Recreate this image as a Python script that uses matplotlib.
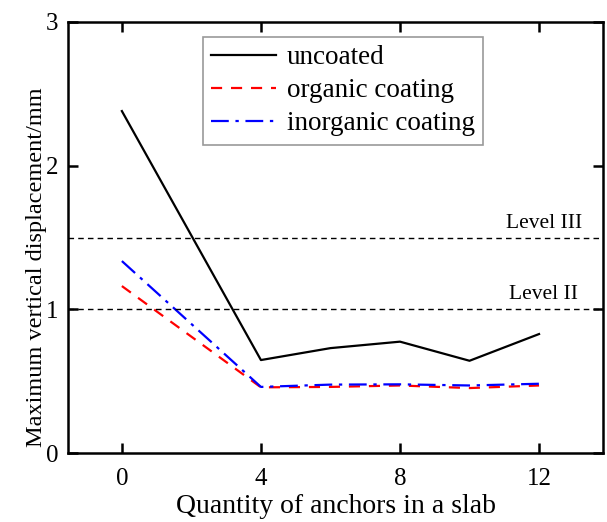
import numpy as np
import matplotlib
matplotlib.use('Agg')
import matplotlib.pyplot as plt

plt.rcParams['font.family'] = 'Liberation Serif'
plt.rcParams['mathtext.fontset'] = 'stix'

# data
anchors = [0, 4, 6, 8, 10, 12]
uncoated = [2.38, 0.647, 0.73, 0.775, 0.642, 0.828]
organic = [1.162, 0.457, 0.46, 0.47, 0.452, 0.47]
inorganic = [1.336, 0.46, 0.476, 0.478, 0.47, 0.482]

levels = [1.5, 1.0]
level_names = ['Level III', 'Level II']

fig = plt.figure(figsize=(6.07, 5.22), dpi=100)
ax = fig.add_axes([68/607, 1-453/522, (603-68)/607, (453-22)/522])

ax.plot(anchors, uncoated, color='black', lw=1.6, ls='-', label='uncoated')
ax.plot(anchors, organic, color='red', lw=1.6, ls=(0, (5, 4)), label='organic coating')
ax.plot(anchors, inorganic, color='blue', lw=1.6, ls=(0, (8, 3, 1.5, 3)), label='inorganic coating')

for lv, name in zip(levels, level_names):
    ax.axhline(lv, color='black', lw=1, ls=(0, (4, 3)))
    ax.text(12.14, lv + 0.1, name, ha='center', va='center', fontsize=15.5)

ax.set_xlim(-1.55, 13.84)
ax.set_ylim(0, 3)
ax.set_xticks([0, 4, 8, 12])
ax.set_yticks([0, 1, 2, 3])
ax.tick_params(direction='in', length=7, width=1.8, labelsize=18, top=True, right=True, pad=7)
ax.tick_params(axis='x', pad=10.5)
for s in ax.spines.values():
    s.set_linewidth(1.8)

ax.set_xlabel('Quantity of anchors in a slab', fontsize=20, labelpad=3)
ax.set_ylabel('Maximum vertical displacement/mm', fontsize=17.5)
ax.yaxis.set_label_coords(-0.04, 0.43)

leg = ax.legend(loc='upper left', bbox_to_anchor=(0.252, 0.965), fontsize=19.5,
                frameon=True, fancybox=False, edgecolor='gray', handlelength=2.4,
                handletextpad=0.4, borderpad=0.3, labelspacing=0.3, borderaxespad=0)
leg.get_frame().set_linewidth(1.2)

fig.savefig('out.png', dpi=100)
